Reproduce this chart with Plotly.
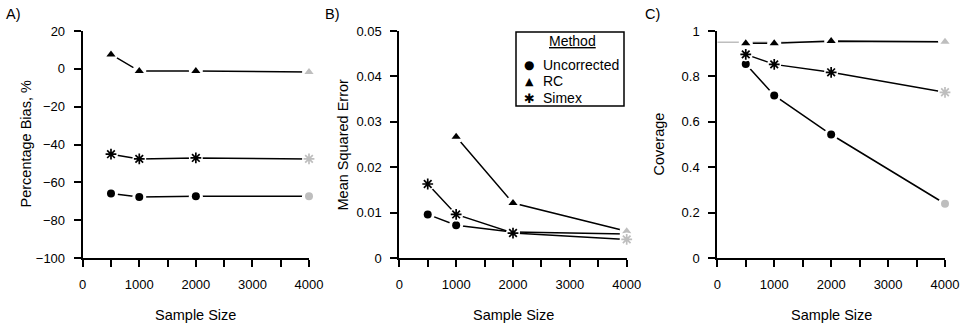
import plotly.graph_objects as go

# ---------------- data ----------------
sample_sizes = [500, 1000, 2000, 4000]

bias_unc = [-65.9, -67.7, -67.4, -67.4]
bias_rc = [7.6, -1.2, -1.2, -1.7]
bias_simex = [-45.1, -47.6, -47.1, -47.6]

mse_unc = [0.0096, 0.0072, 0.0057, 0.0053]
mse_rc = [None, 0.0267, 0.0121, 0.0059]
mse_simex = [0.0163, 0.0096, 0.0055, 0.0041]

cov_unc = [0.855, 0.716, 0.544, 0.239]
cov_rc = [0.946, 0.946, 0.956, 0.953]
cov_simex = [0.897, 0.853, 0.818, 0.730]

nominal_coverage = 0.95

methods = ["Uncorrected", "RC", "Simex"]
legend_glyphs = ["\u25CF", "\u25B2", "\u2731"]
legend_title = "Method"
panel_labels = ["A)", "B)", "C)"]
y_titles = ["Percentage Bias, %", "Mean Squared Error", "Coverage"]
x_title = "Sample Size"

x_ticks = [0, 500, 1000, 1500, 2000, 2500, 3000, 3500, 4000]
x_ticktext = ["0", "", "1000", "", "2000", "", "3000", "", "4000"]

y_ranges = [[-100, 20], [0, 0.05], [0, 1]]
y_ticks = [
    [-100, -80, -60, -40, -20, 0, 20],
    [0, 0.01, 0.02, 0.03, 0.04, 0.05],
    [0, 0.2, 0.4, 0.6, 0.8, 1],
]
y_ticktext = [
    ["\u2212100", "\u221280", "\u221260", "\u221240", "\u221220", "0", "20"],
    ["0", "0.01", "0.02", "0.03", "0.04", "0.05"],
    ["0", "0.2", "0.4", "0.6", "0.8", "1"],
]

panels = [
    {"Uncorrected": bias_unc, "RC": bias_rc, "Simex": bias_simex},
    {"Uncorrected": mse_unc, "RC": mse_rc, "Simex": mse_simex},
    {"Uncorrected": cov_unc, "RC": cov_rc, "Simex": cov_simex},
]

# ---------------- styling ----------------
W, H = 962, 327
BLACK = "#000000"
GRAY = "#bebebe"
FONT = "Liberation Sans, Arial, sans-serif"
TICK_SIZE = 13
TITLE_SIZE = 14.5

x_px = [(82.7, 309.0), (399.3, 626.7), (717.3, 945.0)]
y_px = (31.0, 258.0)
ydom = [1 - y_px[1] / H, 1 - y_px[0] / H]

symbols = {"Uncorrected": "circle", "RC": "triangle-up", "Simex": "asterisk-open"}
sizes = {"Uncorrected": 8, "RC": 8, "Simex": 9}
point_colors = [BLACK, BLACK, BLACK, GRAY]


def px_x(p):
    return p / W


def px_y(p):
    return 1 - p / H


fig = go.Figure()

for i, data in enumerate(panels):
    xa = "x" if i == 0 else f"x{i+1}"
    ya = "y" if i == 0 else f"y{i+1}"
    if i == 2:
        fig.add_trace(go.Scatter(
            x=[0, 4000], y=[nominal_coverage, nominal_coverage], mode="lines",
            line=dict(color=GRAY, width=1.5), xaxis=xa, yaxis=ya,
            showlegend=False, hoverinfo="skip"))
    for m in methods:
        vals = data[m]
        fig.add_trace(go.Scatter(
            x=sample_sizes, y=vals, mode="lines",
            line=dict(color=BLACK, width=1.5), xaxis=xa, yaxis=ya,
            showlegend=False, hoverinfo="skip", connectgaps=False))
        fig.add_trace(go.Scatter(
            x=sample_sizes, y=vals, mode="markers",
            marker=dict(symbol="circle", size=14, color="white",
                        line=dict(width=0)),
            xaxis=xa, yaxis=ya, showlegend=False, hoverinfo="skip",
            cliponaxis=False))
        if m == "Simex":
            mk = dict(symbol=symbols[m], size=sizes[m], color=point_colors,
                      line=dict(width=1.7, color=point_colors))
        else:
            mk = dict(symbol=symbols[m], size=sizes[m], color=point_colors,
                      line=dict(width=0))
        fig.add_trace(go.Scatter(
            x=sample_sizes, y=vals, mode="markers", marker=mk,
            xaxis=xa, yaxis=ya, showlegend=False, name=m,
            cliponaxis=False))

axis_common = dict(
    showline=True, linewidth=2, linecolor=BLACK, ticks="outside", ticklen=7,
    tickwidth=2, tickcolor=BLACK, showgrid=False, zeroline=False,
    tickfont=dict(family=FONT, size=TICK_SIZE, color=BLACK), fixedrange=True,
    automargin=False,
)

layout = dict(
    width=W, height=H, margin=dict(l=0, r=0, t=0, b=0, autoexpand=False),
    paper_bgcolor="white", plot_bgcolor="white",
    font=dict(family=FONT, color=BLACK),
    showlegend=False,
)

annotations = []
shapes = []
y_title_cx = [25, 342, 658]
label_x = [4, 323, 643]
for i in range(3):
    xk = "xaxis" if i == 0 else f"xaxis{i+1}"
    yk = "yaxis" if i == 0 else f"yaxis{i+1}"
    ya = "y" if i == 0 else f"y{i+1}"
    xa = "x" if i == 0 else f"x{i+1}"
    layout[xk] = dict(
        axis_common, domain=[px_x(x_px[i][0]), px_x(x_px[i][1])], range=[0, 4000],
        tickvals=x_ticks, ticktext=x_ticktext, anchor=ya, ticklabelstandoff=6,
    )
    layout[yk] = dict(
        axis_common, domain=ydom, range=y_ranges[i], tickvals=y_ticks[i],
        ticktext=y_ticktext[i], anchor=xa, ticklabelstandoff=6,
    )
    # axis titles
    annotations.append(dict(
        text=x_title, x=px_x((x_px[i][0] + x_px[i][1]) / 2), y=px_y(315),
        xref="paper", yref="paper", xanchor="center", yanchor="middle",
        showarrow=False, font=dict(family=FONT, size=TITLE_SIZE, color=BLACK)))
    annotations.append(dict(
        text=y_titles[i], x=px_x(y_title_cx[i]), y=px_y((y_px[0] + y_px[1]) / 2),
        xref="paper", yref="paper", xanchor="center", yanchor="middle",
        textangle=-90, showarrow=False,
        font=dict(family=FONT, size=TITLE_SIZE, color=BLACK)))
    # panel labels
    annotations.append(dict(
        text=panel_labels[i], x=px_x(label_x[i]), y=px_y(14),
        xref="paper", yref="paper", xanchor="left", yanchor="middle",
        showarrow=False, font=dict(family=FONT, size=TITLE_SIZE, color=BLACK)))

# legend (panel B)
shapes.append(dict(
    type="rect", xref="paper", yref="paper",
    x0=px_x(516), x1=px_x(624), y0=px_y(106), y1=px_y(32),
    line=dict(color=BLACK, width=1.5), fillcolor="white", layer="above"))
annotations.append(dict(
    text=f"<u>{legend_title}</u>", x=px_x(572), y=px_y(41),
    xref="paper", yref="paper", xanchor="center", yanchor="middle",
    showarrow=False, font=dict(family=FONT, size=14, color=BLACK)))
row_y = [65, 81, 98]
glyph_sizes = [12, 11, 13]
for k, m in enumerate(methods):
    annotations.append(dict(
        text=legend_glyphs[k], x=px_x(529), y=px_y(row_y[k]),
        xref="paper", yref="paper", xanchor="center", yanchor="middle",
        showarrow=False,
        font=dict(family="DejaVu Sans", size=glyph_sizes[k], color=BLACK)))
    annotations.append(dict(
        text=m, x=px_x(541), y=px_y(row_y[k]),
        xref="paper", yref="paper", xanchor="left", yanchor="middle",
        showarrow=False, font=dict(family=FONT, size=14, color=BLACK)))

layout["annotations"] = annotations
layout["shapes"] = shapes
fig.update_layout(**layout)

fig.write_html(
    "out.html",
    config={"displayModeBar": False, "staticPlot": True},
    post_script="document.body.style.margin='0';document.body.style.padding='0';",
)
